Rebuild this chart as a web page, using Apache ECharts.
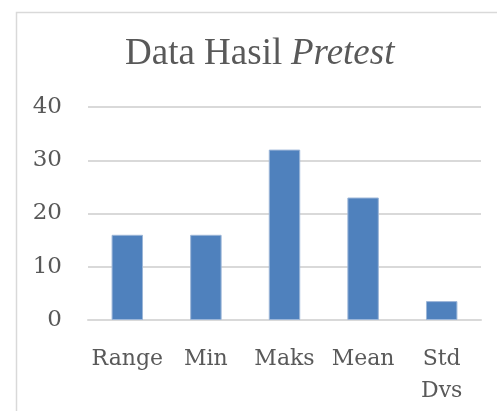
<!DOCTYPE html>
<html><head><meta charset="utf-8">
<script src="https://cdn.jsdelivr.net/npm/echarts@6/dist/echarts.min.js"></script>
<style>html,body{margin:0;padding:0;background:#fff}#c{width:497px;height:411px}</style>
</head><body><div id="c"></div>
<script>
const categories = ['Range', 'Min', 'Maks', 'Mean', 'Std\nDvs'];
const values = [16, 16, 32, 23, 3.55];
const yTicks = [0, 10, 20, 30, 40];
const titleNormal = 'Data Hasil ';
const titleItalic = 'Pretest';

const chart = echarts.init(document.getElementById('c'));
chart.setOption({
  animation: false,
  graphic: [
    {type: 'rect', left: 14, top: 10, shape: {width: 500, height: 420},
     style: {fill: 'none', stroke: '#d9d9d9', lineWidth: 1.5}, silent: true, z: -1},
    {type: 'text', x: 125, y: 54,
     style: {text: titleNormal, font: '37px "Liberation Serif"', fill: '#595959', align: 'left', verticalAlign: 'middle'}},
    {type: 'text', x: 291, y: 54,
     style: {text: titleItalic, font: 'italic 37px "Liberation Serif"', fill: '#595959', align: 'left', verticalAlign: 'middle'}}
  ],
  grid: {left: 88, right: 16, top: 107, bottom: 91, containLabel: false},
  xAxis: {
    type: 'category', data: categories,
    axisLine: {lineStyle: {color: '#d9d9d9', width: 2}},
    axisTick: {show: false},
    axisLabel: {fontFamily: 'DejaVu Serif', fontSize: 22, color: '#595959', margin: 23, lineHeight: 32, interval: 0}
  },
  yAxis: {
    type: 'value', min: 0, max: 40, interval: 10,
    axisLine: {show: false}, axisTick: {show: false},
    axisLabel: {fontFamily: 'DejaVu Serif', fontSize: 23, color: '#595959', margin: 26,
      formatter: v => yTicks.includes(v) ? String(v) : ''},
    splitLine: {lineStyle: {color: '#d9d9d9', width: 2}}
  },
  series: [{
    type: 'bar', data: values, barWidth: '40%',
    itemStyle: {color: '#4f81bd', borderColor: '#9cb6d8', borderWidth: 1}
  }]
});
</script></body></html>
